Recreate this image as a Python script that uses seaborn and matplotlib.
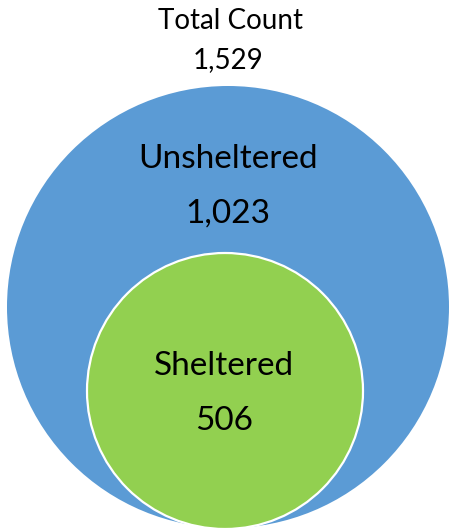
import matplotlib
matplotlib.use("Agg")
import matplotlib.pyplot as plt
from matplotlib.patches import Circle
import seaborn as sns

# data
groups = ["Unsheltered", "Sheltered"]
counts = [1023, 506]
total_label = "Total Count"
total = sum(counts)

# layout (pixels, y downwards)
W, H = 449, 531
blue_c, blue_r = (228, 307), 221
green_c, green_r = (225, 391), 138
colors = ["#5B9BD5", "#92D050"]

sns.set_theme(style="white")
plt.rcParams["font.family"] = ["Lato", "DejaVu Sans"]

fig = plt.figure(figsize=(W / 100, H / 100), dpi=100)
ax = fig.add_axes([0, 0, 1, 1])
ax.set_xlim(0, W)
ax.set_ylim(H, 0)
ax.set_axis_off()

ax.add_patch(Circle(blue_c, blue_r, facecolor=colors[0], edgecolor="none"))
ax.add_patch(Circle(green_c, green_r, facecolor=colors[1], edgecolor="white", linewidth=1.6))

ax.text(231, 21, total_label, ha="center", va="center", fontsize=20, color="black")
ax.text(228, 60, f"{total:,}", ha="center", va="center", fontsize=20, color="black")

ax.text(228, 159, groups[0], ha="center", va="center", fontsize=24, color="black")
ax.text(228, 214, f"{counts[0]:,}", ha="center", va="center", fontsize=24, color="black")
ax.text(224, 366, groups[1], ha="center", va="center", fontsize=24, color="black")
ax.text(224, 421, f"{counts[1]:,}", ha="center", va="center", fontsize=24, color="black")

fig.savefig("out.png", dpi=100)
